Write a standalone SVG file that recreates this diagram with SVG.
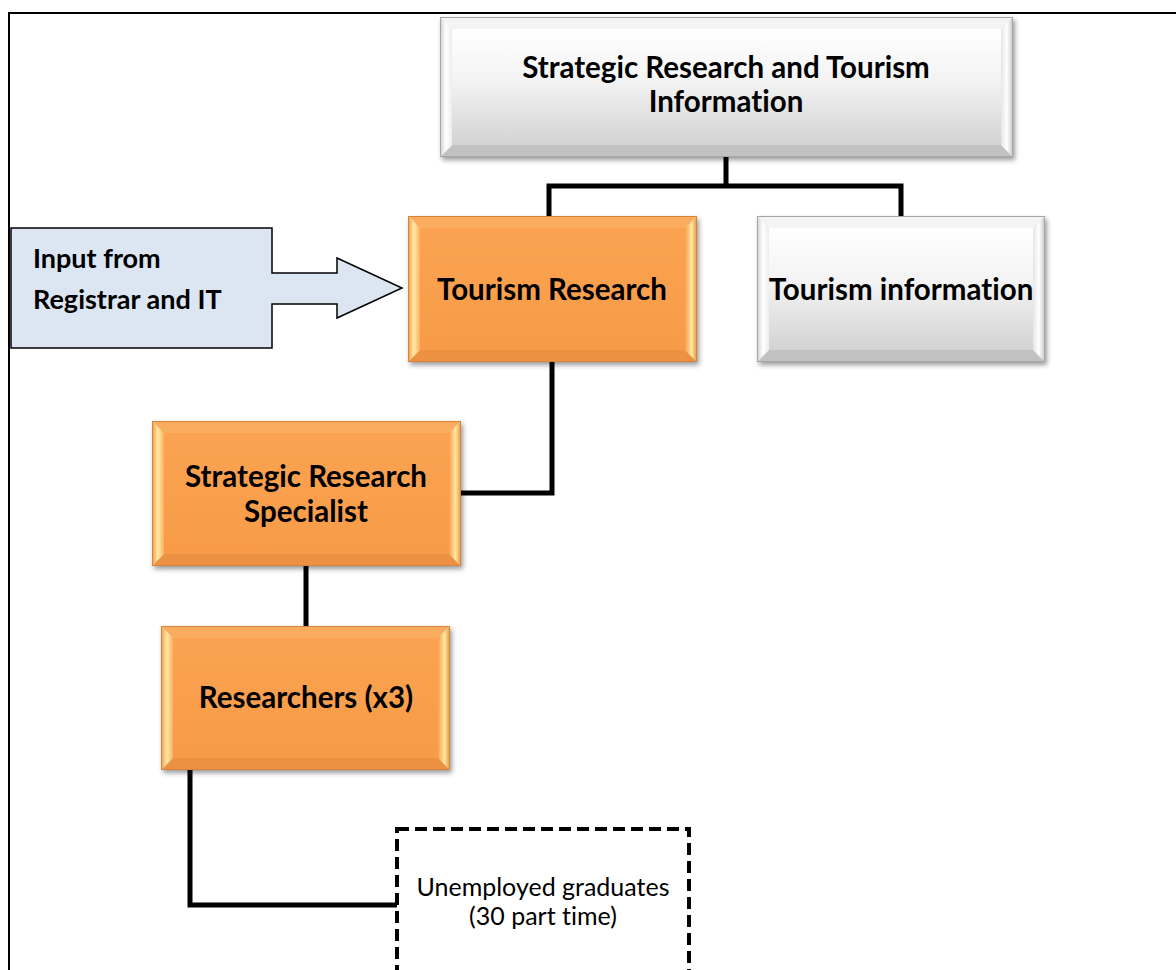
<svg xmlns="http://www.w3.org/2000/svg" width="1176" height="970" viewBox="0 0 1176 970">
<defs>
<style>
text{font-variant-ligatures:none;font-feature-settings:"liga" 0}
.t{font-family:Lato,"Open Sans","Liberation Sans",sans-serif;font-weight:bold;font-size:29.5px;fill:#000;text-anchor:middle}
.tl{font-family:Lato,"Open Sans","Liberation Sans",sans-serif;font-weight:bold;font-size:27px;fill:#000}
.tn{font-family:Lato,"Open Sans","Liberation Sans",sans-serif;font-size:25px;fill:#000;text-anchor:middle}
.conn{fill:none;stroke:#000;stroke-width:5}
.oc{fill:url(#oc)}.ot{fill:#FBAD5E}.ob{fill:#EC9042}.ol{fill:url(#ol)}.or{fill:url(#or)}
.gc{fill:url(#gc)}.gt{fill:#F4F4F4}.gb{fill:#C2C2C2}.gl{fill:url(#gl)}.gr{fill:url(#gr)}
.oedge{fill:none;stroke:#D9823A;stroke-width:1}
.gedge{fill:none;stroke:#A6A6A6;stroke-width:1}
</style>
<filter id="sh" x="-10%" y="-10%" width="125%" height="130%">
<feDropShadow dx="2" dy="3" stdDeviation="2.5" flood-color="#000" flood-opacity="0.4"/>
</filter>
<linearGradient id="oc" x1="0" y1="0" x2="0" y2="1"><stop offset="0" stop-color="#FBA352"/><stop offset="1" stop-color="#F79B48"/></linearGradient>
<linearGradient id="ol" x1="0" y1="0" x2="1" y2="0"><stop offset="0" stop-color="#F59A4A"/><stop offset="0.5" stop-color="#FFE9A6"/><stop offset="1" stop-color="#F9B060"/></linearGradient>
<linearGradient id="or" x1="0" y1="0" x2="1" y2="0"><stop offset="0" stop-color="#F7A04E"/><stop offset="0.55" stop-color="#FFE7A0"/><stop offset="1" stop-color="#E8923F"/></linearGradient>
<linearGradient id="gc" x1="0" y1="0" x2="0" y2="1"><stop offset="0" stop-color="#FFFFFF"/><stop offset="0.45" stop-color="#F3F3F3"/><stop offset="1" stop-color="#D3D3D3"/></linearGradient>
<linearGradient id="gl" x1="0" y1="0" x2="1" y2="0"><stop offset="0" stop-color="#D0D0D0"/><stop offset="0.5" stop-color="#FFFFFF"/><stop offset="1" stop-color="#EDEDED"/></linearGradient>
<linearGradient id="gr" x1="0" y1="0" x2="1" y2="0"><stop offset="0" stop-color="#E6E6E6"/><stop offset="0.5" stop-color="#FFFFFF"/><stop offset="1" stop-color="#C4C4C4"/></linearGradient>
</defs>
<rect x="0" y="0" width="1176" height="970" fill="#FFFFFF"/>
<rect id="frame" x="9" y="13" width="1180" height="980" fill="none" stroke="#000" stroke-width="2"/>

<g id="connectors">
<path class="conn" d="M726 157 V186 M549 216 V186 H901 V216"/>
<path class="conn" d="M552 362 V493 H461"/>
<path class="conn" d="M306 566 V626"/>
<path class="conn" d="M190 770 V905 H397"/>
</g>

<g id="node-strategic">
<g filter="url(#sh)">
<rect x="440" y="17" width="573" height="140" fill="#EDEDED"/>
<polygon class="gt" points="440,17 1013,17 1001,29 452,29"/>
<polygon class="gb" points="440,157 1013,157 1001,145 452,145"/>
<polygon class="gl" points="440,17 452,29 452,145 440,157"/>
<polygon class="gr" points="1013,17 1001,29 1001,145 1013,157"/>
<rect class="gc" x="452" y="29" width="549" height="116"/>
<rect class="gedge" x="440.5" y="17.5" width="572" height="139"/>
</g>
<text class="t" x="726" y="78">Strategic Research and Tourism</text>
<text class="t" x="726" y="112">Information</text>
</g>

<g id="node-tourism-research">
<g filter="url(#sh)">
<polygon class="ot" points="408,216 697,216 685,228 420,228"/>
<polygon class="ob" points="408,362 697,362 685,350 420,350"/>
<polygon class="ol" points="408,216 420,228 420,350 408,362"/>
<polygon class="or" points="697,216 685,228 685,350 697,362"/>
<rect class="oc" x="420" y="228" width="265" height="122"/>
<rect class="oedge" x="408.5" y="216.5" width="288" height="145"/>
</g>
<text class="t" x="552" y="300">Tourism Research</text>
</g>

<g id="node-tourism-information">
<g filter="url(#sh)">
<polygon class="gt" points="757,216 1045,216 1033,228 769,228"/>
<polygon class="gb" points="757,362 1045,362 1033,350 769,350"/>
<polygon class="gl" points="757,216 769,228 769,350 757,362"/>
<polygon class="gr" points="1045,216 1033,228 1033,350 1045,362"/>
<rect class="gc" x="769" y="228" width="264" height="122"/>
<rect class="gedge" x="757.5" y="216.5" width="287" height="145"/>
</g>
<text class="t" x="901" y="300">Tourism information</text>
</g>

<g id="node-input">
<path d="M11 228 H272 V273 H337 V258 L402 288 L337 318 V304 H272 V348 H11 Z" fill="#DCE6F2" stroke="#000" stroke-width="1.5"/>
<text class="tl" x="33" y="268">Input from</text>
<text class="tl" x="33" y="309">Registrar and IT</text>
</g>

<g id="node-specialist">
<g filter="url(#sh)">
<polygon class="ot" points="152,421 461,421 449,433 164,433"/>
<polygon class="ob" points="152,566 461,566 449,554 164,554"/>
<polygon class="ol" points="152,421 164,433 164,554 152,566"/>
<polygon class="or" points="461,421 449,433 449,554 461,566"/>
<rect class="oc" x="164" y="433" width="285" height="121"/>
<rect class="oedge" x="152.5" y="421.5" width="308" height="144"/>
</g>
<text class="t" x="306" y="487">Strategic Research</text>
<text class="t" x="306" y="522">Specialist</text>
</g>

<g id="node-researchers">
<g filter="url(#sh)">
<polygon class="ot" points="161,626 450,626 438,638 173,638"/>
<polygon class="ob" points="161,770 450,770 438,758 173,758"/>
<polygon class="ol" points="161,626 173,638 173,758 161,770"/>
<polygon class="or" points="450,626 438,638 438,758 450,770"/>
<rect class="oc" x="173" y="638" width="265" height="120"/>
<rect class="oedge" x="161.5" y="626.5" width="288" height="143"/>
</g>
<text class="t" x="306" y="708">Researchers (x3)</text>
</g>

<g id="node-graduates">
<rect x="397" y="829" width="292" height="160" fill="#FFFFFF" stroke="#000" stroke-width="4" stroke-dasharray="12,6"/>
<text class="tn" x="543" y="896">Unemployed graduates</text>
<text class="tn" x="543" y="925">(30 part time)</text>
</g>
</svg>
